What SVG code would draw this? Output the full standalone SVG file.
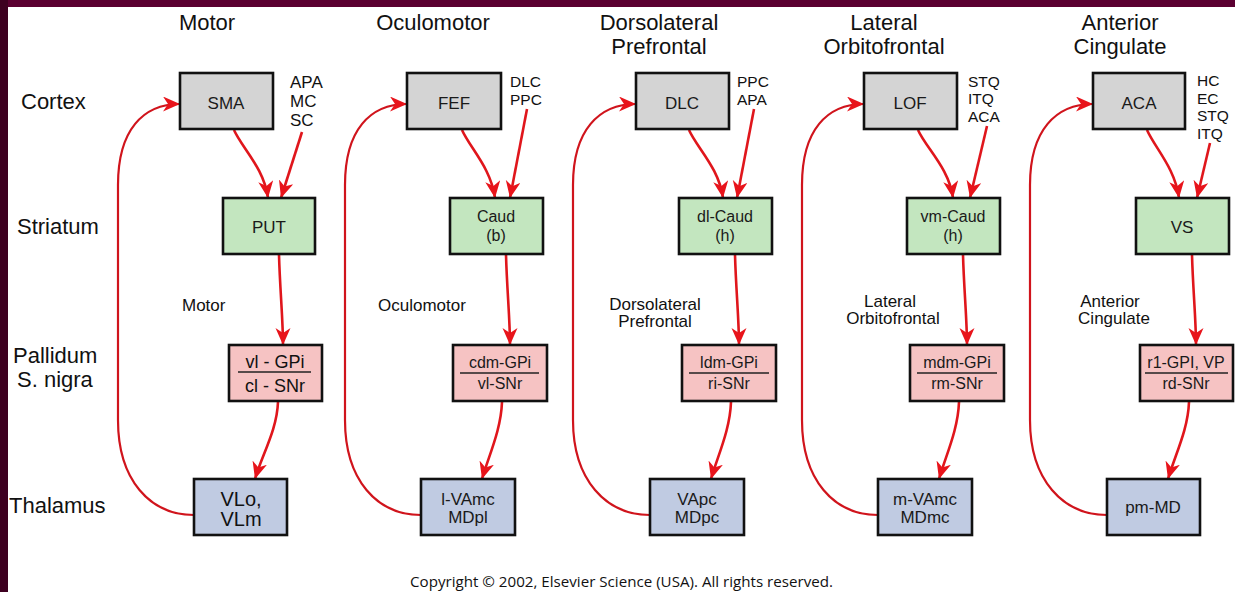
<svg xmlns="http://www.w3.org/2000/svg" width="1235" height="592" viewBox="0 0 1235 592">
<style>
text{font-family:"Liberation Sans",Arial,sans-serif;fill:#111}
.row{font-size:22px}
.title{font-size:22px;text-anchor:middle}
.inp{font-size:17px}
.inp2{font-size:15.5px}
.mid{font-size:17px}
.bl{font-size:17px;text-anchor:middle;fill:#1a1a1a}
.bm{font-size:16px;text-anchor:middle;fill:#1a1a1a}
.box{stroke:#111;stroke-width:2.6}
.ctx{fill:#d4d4d4}
.str{fill:#c3e6bf}
.pal{fill:#f6c3c3}
.thl{fill:#c0cbe2}
.div{stroke:#222;stroke-width:1.4}
.c{fill:none;stroke:#e0161c;stroke-width:2.6;marker-end:url(#ah)}
.loop{fill:none;stroke:#d0141c;stroke-width:2.2;marker-end:url(#ah)}
</style>
<defs>
<marker id="ah" markerUnits="userSpaceOnUse" markerWidth="19" markerHeight="17" refX="17" refY="7.5" orient="auto">
<path d="M0,0 L17,7.5 L0,15 L5,7.5 Z" fill="#e8141b"/>
</marker>
</defs>
<rect x="0" y="0" width="1235" height="592" fill="#ffffff"/>
<rect x="0" y="0" width="1235" height="7" fill="#5b0031"/>
<rect x="0" y="0" width="8" height="592" fill="#3e0020"/>

<g id="row-labels">
<text class="row" x="21" y="109">Cortex</text>
<text class="row" x="17" y="234">Striatum</text>
<text class="row" x="13" y="363">Pallidum</text>
<text class="row" x="17" y="387">S. nigra</text>
<text class="row" x="9" y="513">Thalamus</text>
</g>

<g id="column-titles">
<text class="title" x="207" y="30">Motor</text>
<text class="title" x="433" y="30">Oculomotor</text>
<text class="title" x="659" y="30">Dorsolateral</text>
<text class="title" x="659" y="54">Prefrontal</text>
<text class="title" x="884" y="30">Lateral</text>
<text class="title" x="884" y="54">Orbitofrontal</text>
<text class="title" x="1120" y="30">Anterior</text>
<text class="title" x="1120" y="54">Cingulate</text>
</g>

<g id="inputs">
<text class="inp" x="290" y="88">APA</text>
<text class="inp" x="290" y="107">MC</text>
<text class="inp" x="290" y="126">SC</text>
<text class="inp2" x="510" y="87">DLC</text>
<text class="inp2" x="510" y="104.5">PPC</text>
<text class="inp2" x="737" y="87">PPC</text>
<text class="inp2" x="737" y="104.5">APA</text>
<text class="inp2" x="968" y="86.5">STQ</text>
<text class="inp2" x="968" y="104">ITQ</text>
<text class="inp2" x="968" y="121.5">ACA</text>
<text class="inp2" x="1197" y="86">HC</text>
<text class="inp2" x="1197" y="103.5">EC</text>
<text class="inp2" x="1197" y="121">STQ</text>
<text class="inp2" x="1197" y="138.5">ITQ</text>
</g>

<g id="loop-labels">
<text class="mid" x="182" y="311">Motor</text>
<text class="mid" x="378" y="311">Oculomotor</text>
<text class="mid" x="655" y="310" text-anchor="middle">Dorsolateral</text>
<text class="mid" x="655" y="327" text-anchor="middle">Prefrontal</text>
<text class="mid" x="890" y="307" text-anchor="middle">Lateral</text>
<text class="mid" x="893" y="324" text-anchor="middle">Orbitofrontal</text>
<text class="mid" x="1110" y="307" text-anchor="middle">Anterior</text>
<text class="mid" x="1114" y="324" text-anchor="middle">Cingulate</text>
</g>

<g id="connectors">
<!-- Motor -->
<path class="c" d="M234,130 C242,148 264,168 268,198"/>
<path class="c" d="M302,132 L281,198"/>
<path class="c" d="M279,255 C280,290 283,320 283,345"/>
<path class="c" d="M278,402 C277,430 262,455 255,479"/>
<path class="loop" d="M194,515 C150,515 118,480 118,420 L118,185 C118,130 143,104 180,104"/>
<!-- Oculomotor -->
<path class="c" d="M462,130 C470,148 491,168 495,198"/>
<path class="c" d="M527,109 L510,198"/>
<path class="c" d="M506,255 C507,290 510,320 510,345"/>
<path class="c" d="M502,402 C501,430 489,455 482,479"/>
<path class="loop" d="M421,515 C377,515 345,480 345,420 L345,185 C345,130 370,104 407,104"/>
<!-- Dorsolateral -->
<path class="c" d="M689,130 C697,148 719,168 723,198"/>
<path class="c" d="M754,109 L737,198"/>
<path class="c" d="M735,255 C736,290 739,320 739,345"/>
<path class="c" d="M731,402 C730,430 718,455 711,479"/>
<path class="loop" d="M650,515 C606,515 573,480 573,420 L573,185 C573,130 599,104 636,104"/>
<!-- Lateral Orbitofrontal -->
<path class="c" d="M918,130 C926,148 949,168 953,198"/>
<path class="c" d="M987,126 L970,198"/>
<path class="c" d="M963,255 C964,290 967,320 967,345"/>
<path class="c" d="M959,402 C958,430 946,455 939,479"/>
<path class="loop" d="M878,515 C834,515 802,480 802,420 L802,185 C802,130 827,104 864,104"/>
<!-- Anterior Cingulate -->
<path class="c" d="M1147,130 C1155,148 1175,168 1179,198"/>
<path class="c" d="M1210,143 L1197,198"/>
<path class="c" d="M1192,255 C1193,290 1196,320 1196,345"/>
<path class="c" d="M1189,402 C1188,430 1175,455 1168,479"/>
<path class="loop" d="M1107,515 C1063,515 1030,480 1030,420 L1030,185 C1030,130 1056,104 1093,104"/>
</g>

<g id="SMA"><rect class="box ctx" x="180" y="73" width="93" height="56"/><text class="bl" x="226" y="109">SMA</text></g>
<g id="FEF"><rect class="box ctx" x="407" y="73" width="94" height="56"/><text class="bl" x="454" y="109">FEF</text></g>
<g id="DLC"><rect class="box ctx" x="636" y="73" width="93" height="56"/><text class="bl" x="682" y="109">DLC</text></g>
<g id="LOF"><rect class="box ctx" x="864" y="73" width="93" height="56"/><text class="bl" x="910" y="109">LOF</text></g>
<g id="ACA"><rect class="box ctx" x="1093" y="73" width="92" height="56"/><text class="bl" x="1139" y="109">ACA</text></g>

<g id="PUT"><rect class="box str" x="223" y="198" width="92" height="56"/><text class="bl" x="269" y="233">PUT</text></g>
<g id="Caud"><rect class="box str" x="450" y="198" width="93" height="56"/><text class="bm" x="496" y="222">Caud</text><text class="bm" x="496" y="241">(b)</text></g>
<g id="dl-Caud"><rect class="box str" x="679" y="198" width="93" height="56"/><text class="bm" x="725" y="222">dl-Caud</text><text class="bm" x="725" y="241">(h)</text></g>
<g id="vm-Caud"><rect class="box str" x="907" y="198" width="93" height="56"/><text class="bm" x="953" y="222">vm-Caud</text><text class="bm" x="953" y="241">(h)</text></g>
<g id="VS"><rect class="box str" x="1136" y="198" width="93" height="56"/><text class="bl" x="1182" y="233">VS</text></g>

<g id="vl-GPi"><rect class="box pal" x="229" y="345" width="93" height="56"/><text x="275" y="368" style="font-size:18px;text-anchor:middle">vl - GPi</text><line class="div" x1="238" y1="372" x2="311" y2="372"/><text x="275" y="392" style="font-size:18px;text-anchor:middle">cl - SNr</text></g>
<g id="cdm-GPi"><rect class="box pal" x="453" y="345" width="94" height="56"/><text class="bm" x="500" y="368">cdm-GPi</text><line class="div" x1="460" y1="373" x2="539" y2="373"/><text class="bm" x="500" y="389">vl-SNr</text></g>
<g id="ldm-GPi"><rect class="box pal" x="682" y="345" width="94" height="56"/><text class="bm" x="729" y="368">ldm-GPi</text><line class="div" x1="689" y1="373" x2="769" y2="373"/><text class="bm" x="729" y="389">ri-SNr</text></g>
<g id="mdm-GPi"><rect class="box pal" x="910" y="345" width="94" height="56"/><text class="bm" x="957" y="368">mdm-GPi</text><line class="div" x1="917" y1="373" x2="997" y2="373"/><text class="bm" x="957" y="389">rm-SNr</text></g>
<g id="r1-GPI"><rect class="box pal" x="1140" y="345" width="93" height="56"/><text class="bm" x="1186" y="368">r1-GPI, VP</text><line class="div" x1="1145" y1="373" x2="1228" y2="373"/><text class="bm" x="1186" y="389">rd-SNr</text></g>

<g id="VLo"><rect class="box thl" x="194" y="479" width="93" height="56"/><text x="241" y="506" style="font-size:20px;text-anchor:middle">VLo,</text><text x="241" y="526" style="font-size:20px;text-anchor:middle">VLm</text></g>
<g id="l-VAmc"><rect class="box thl" x="421" y="479" width="94" height="56"/><text class="bl" x="468" y="505">l-VAmc</text><text class="bl" x="468" y="523">MDpl</text></g>
<g id="VApc"><rect class="box thl" x="650" y="479" width="94" height="56"/><text class="bl" x="697" y="505">VApc</text><text class="bl" x="697" y="523">MDpc</text></g>
<g id="m-VAmc"><rect class="box thl" x="878" y="479" width="94" height="56"/><text class="bl" x="925" y="505">m-VAmc</text><text class="bl" x="925" y="523">MDmc</text></g>
<g id="pm-MD"><rect class="box thl" x="1107" y="479" width="93" height="56"/><text class="bl" x="1153" y="513">pm-MD</text></g>

<text x="410" y="587" style="font-family:'Open Sans','DejaVu Sans',sans-serif;font-size:14px" textLength="423" lengthAdjust="spacingAndGlyphs">Copyright © 2002, Elsevier Science (USA). All rights reserved.</text>
</svg>
